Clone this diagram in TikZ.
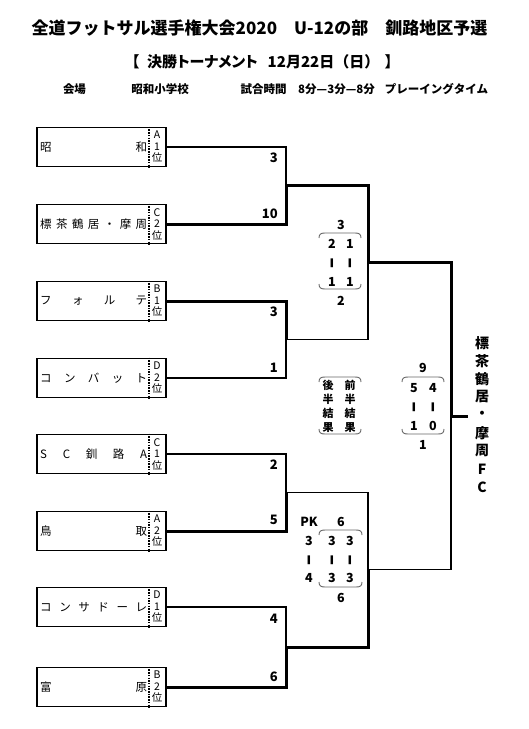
\documentclass[tikz,border=0pt]{standalone}
\usepackage{fontspec}
\setmainfont{Noto Sans CJK JP}
\usepackage{tikz}

\newcommand{\fs}[1]{\fontsize{#1}{#1}\selectfont}
\newcommand{\vbar}{\scalebox{1.7}[0.62]{|}}
% upper and lower round marks round a score block
\newcommand{\scorebrace}[4]{%
  \draw[brace] (#1,#3+5) .. controls (#1,#3+1) and (#1+2,#3) .. (#1+6,#3) -- (#2-6,#3) .. controls (#2-2,#3) and (#2,#3+1) .. (#2,#3+5);
  \draw[brace] (#1,#4-5) .. controls (#1,#4-1) and (#1+2,#4) .. (#1+6,#4) -- (#2-6,#4) .. controls (#2-2,#4) and (#2,#4-1) .. (#2,#4-5);
}

\tikzset{
  team/.style={draw, line width=1.6pt, minimum width=129pt, minimum height=39pt, inner sep=0pt},
  win/.style={line width=3pt},
  lose/.style={line width=1.8pt},
  dotsep/.style={line width=1.8pt, dash pattern=on 1.5pt off 1.2pt},
  score/.style={font=\fs{13}\bfseries, inner sep=0pt},
  half/.style={font=\fs{12.5}\bfseries, inner sep=0pt},
  brace/.style={draw=black!60, line width=0.9pt},
}

\begin{document}
\begin{tikzpicture}[x=1pt, y=-1pt]
\useasboundingbox (0,0) rectangle (529,729);

\node[font=\fs{17}\bfseries] (title) at (259.5,28.5) {全道フットサル選手権大会2020　U-12の部　釧路地区予選};
\node[font=\fs{15}\bfseries] (lb) at (132,62) {【};
\node[font=\fs{15}\bfseries\addfontfeatures{RawFeature=+palt}] (final) at (202.5,62) {決勝トーナメント};
\node[font=\fs{15}\bfseries] (date) at (323.5,62) {12月22日（日）};
\node[font=\fs{15}\bfseries] (rb) at (392,62) {】};

\node[font=\fs{11.5}\bfseries] (venue) at (74.5,89) {会場};
\node[font=\fs{11.5}\bfseries] (school) at (160,89) {昭和小学校};
\node[font=\fs{11.5}\bfseries] (time) at (263.5,89) {試合時間};
\node[font=\fs{11.5}\bfseries] (mins) at (336.5,89) {8分—3分—8分};
\node[font=\fs{11.5}\bfseries] (play) at (436.5,89) {プレーイングタイム};

\foreach \i/\yy/\nm/\g/\r in {1/147/{昭 和}/A/1, 2/224/{標 茶 鶴 居 ・ 摩 周}/C/2,
    3/301/{フ ォ ル テ}/B/1, 4/378/{コ ン バ ッ ト}/D/2, 5/454/{S C 釧 路 A}/C/1,
    6/531/{鳥 取}/A/2, 7/607/{コ ン サ ド ー レ}/D/1, 8/687/{富 原}/B/2}{
	\node[team] (t\i) at (101.5,\yy) {};
	\draw[dotsep] ([xshift=-18pt]t\i.north east) -- ([xshift=-18pt]t\i.south east);
	\node[anchor=west, inner sep=0pt, font=\fs{11.5}] (n\i) at (40,\yy) {\makebox[107pt][s]{\nm}};
	\node[align=center, inner sep=0pt, font=\fs{10.5}] (r\i) at (157,\yy) {\g\\[1pt]\r\\[1pt]位};
}

% first round
\coordinate (j1) at (286,185.5);
\coordinate (j2) at (286,339.5);
\coordinate (j3) at (286,492.5);
\coordinate (j4) at (286,647);
\draw[lose] (t1.east) -| (j1);
\draw[win] (t2.east) -| (j1);
\draw[win] (t3.east) -| (j2);
\draw[lose] (t4.east) -| (j2);
\draw[lose] (t5.east) -| (j3);
\draw[win] (t6.east) -| (j3);
\draw[lose] (t7.east) -| (j4);
\draw[win] (t8.east) -| (j4);

% semi finals and final
\coordinate (s1) at (368,262.5);
\coordinate (s2) at (368,569.5);
\coordinate (f) at (451,416);
\coordinate (champ) at (468,416);
\draw[win] (j1) -| (s1);
\draw[lose] (j2) -| (s1);
\draw[lose] (j3) -| (s2);
\draw[win] (j4) -| (s2);
\draw[win] (s1) -| (f);
\draw[lose] (s2) -| (f);
\draw[win] (f) -- (champ);

\node[score, anchor=east] (a1) at (278,158) {3};
\node[score, anchor=east] (a2) at (278,214) {10};
\node[score, anchor=east] (a3) at (278,312) {3};
\node[score, anchor=east] (a4) at (278,368) {1};
\node[score, anchor=east] (a5) at (278,465) {2};
\node[score, anchor=east] (a6) at (278,520) {5};
\node[score, anchor=east] (a7) at (278,619) {4};
\node[score, anchor=east] (a8) at (278,677) {6};

% top semi final
\node[half] (b1) at (341,225) {3};
\node[half] (b2) at (332,244) {2};
\node[half] (b3) at (350,244) {1};
\node[half] (b4) at (332,263) {\vbar};
\node[half] (b5) at (350,263) {\vbar};
\node[half] (b6) at (332,282) {1};
\node[half] (b7) at (350,282) {1};
\node[half] (b8) at (341,301) {2};
\scorebrace{319}{361}{233}{289}

% legend
\foreach \c [count=\k] in {後,半,結,果}
	\node[font=\fs{11}\bfseries, inner sep=0pt] (la\k) at (328,370.7+14.3*\k) {\c};
\foreach \c [count=\k] in {前,半,結,果}
	\node[font=\fs{11}\bfseries, inner sep=0pt] (lb\k) at (350,370.7+14.3*\k) {\c};
\scorebrace{319}{361}{377}{434}

% final
\node[half] (c1) at (423,368) {9};
\node[half] (c2) at (414,388) {5};
\node[half] (c3) at (433,388) {4};
\node[half] (c4) at (414,407) {\vbar};
\node[half] (c5) at (433,407) {\vbar};
\node[half] (c6) at (414,426) {1};
\node[half] (c7) at (433,426) {0};
\node[half] (c8) at (423,445) {1};
\scorebrace{402}{444}{377}{434}

% bottom semi final
\node[half] (d0) at (309,522) {PK};
\node[half] (d1) at (341,522) {6};
\node[half] (d2) at (309,541) {3};
\node[half] (d3) at (332,541) {3};
\node[half] (d4) at (350,541) {3};
\node[half] (d5) at (309,560) {\vbar};
\node[half] (d6) at (332,560) {\vbar};
\node[half] (d7) at (350,560) {\vbar};
\node[half] (d8) at (309,578) {4};
\node[half] (d9) at (332,578) {3};
\node[half] (d10) at (350,578) {3};
\node[half] (d11) at (341,598) {6};
\scorebrace{319}{362}{530}{587}

% winner
\foreach \c [count=\k] in {標,茶,鶴,居,・,摩,周,F,C}
	\node[font=\fs{14}\bfseries, inner sep=0pt] (w\k) at (482,325+18*\k) {\c};

\end{tikzpicture}
\end{document}
